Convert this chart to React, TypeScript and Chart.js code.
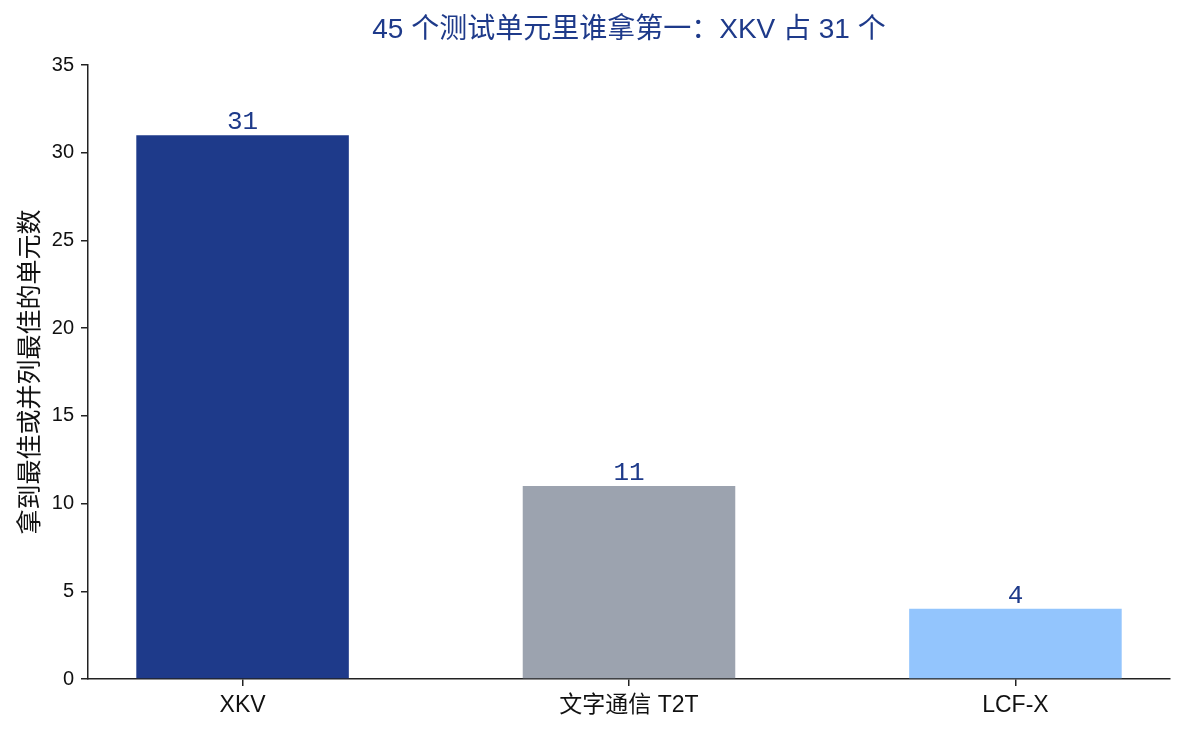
import { useEffect, useRef } from "react";
import { Chart, registerables, type ChartConfiguration, type Plugin } from "chart.js";

Chart.register(...registerables);

const TITLE = "45 个测试单元里谁拿第一：XKV 占 31 个";
const Y_TITLE = "拿到最佳或并列最佳的单元数";
const CATEGORIES = ["XKV", "文字通信 T2T", "LCF-X"];
const WINS = [31, 11, 4];
const BAR_COLORS = ["#1e3a8a", "#9ca3af", "#93c5fd"];

const SANS = "'Liberation Sans', 'Noto Sans CJK SC', sans-serif";
const MONO = "'Liberation Mono', 'Noto Sans CJK SC', monospace";
const AXIS = "#222222";
const ACCENT = "#1e3a8a";

// title centred over the plot area, not the canvas
const titlePlugin: Plugin<"bar"> = {
  id: "plotTitle",
  afterDraw(chart) {
    const { ctx, chartArea } = chart;
    ctx.save();
    ctx.font = `28px ${SANS}`;
    ctx.fillStyle = ACCENT;
    ctx.textAlign = "center";
    ctx.textBaseline = "middle";
    ctx.fillText(TITLE, (chartArea.left + chartArea.right) / 2, 30);
    ctx.restore();
  },
};

// value above each bar
const valueLabels: Plugin<"bar"> = {
  id: "valueLabels",
  afterDatasetsDraw(chart) {
    const { ctx } = chart;
    const meta = chart.getDatasetMeta(0);
    ctx.save();
    ctx.font = `26px ${MONO}`;
    ctx.fillStyle = ACCENT;
    ctx.textAlign = "center";
    ctx.textBaseline = "alphabetic";
    meta.data.forEach((bar, i) => {
      ctx.fillText(String(WINS[i]), bar.x, bar.y - 6);
    });
    ctx.restore();
  },
};

export default function App() {
  const canvasRef = useRef<HTMLCanvasElement>(null);

  useEffect(() => {
    if (!canvasRef.current) return;
    const config: ChartConfiguration<"bar"> = {
      type: "bar",
      data: {
        datasets: [
          {
            data: WINS.map((v, i) => ({ x: i, y: v })) as any,
            backgroundColor: BAR_COLORS,
            borderWidth: 0,
            barPercentage: 0.55,
            categoryPercentage: 1,
          },
        ],
      },
      options: {
        responsive: false,
        animation: false,
        devicePixelRatio: 1,
        layout: { padding: { top: 65, right: 15, left: 0, bottom: 0 } },
        plugins: {
          legend: { display: false },
          tooltip: { enabled: false },
          title: { display: false },
        },
        scales: {
          x: {
            type: "linear",
            min: -0.4,
            max: 2.4,
            offset: false,
            afterBuildTicks: (scale) => {
              scale.ticks = CATEGORIES.map((_, i) => ({ value: i }));
            },
            afterFit: (scale) => {
              scale.height = 56;
            },
            ticks: {
              callback: (v) => CATEGORIES[Number(v)] ?? "",
              color: "#111111",
              font: { size: 23, family: SANS },
              padding: 6,
              maxRotation: 0,
              autoSkip: false,
            },
            grid: { offset: false, drawOnChartArea: false, drawTicks: true, tickLength: 7, color: AXIS, lineWidth: 1.5 },
            border: { display: true, color: AXIS, width: 1.5 },
          },
          y: {
            min: 0,
            max: 35,
            afterFit: (scale) => {
              scale.width = 88;
            },
            ticks: {
              stepSize: 5,
              color: "#111111",
              font: { size: 20, family: SANS },
              padding: 7,
            },
            title: {
              display: true,
              text: Y_TITLE,
              color: "#111111",
              font: { size: 25, family: SANS },
              padding: { top: 16, bottom: 0 },
            },
            grid: { drawOnChartArea: false, drawTicks: true, tickLength: 7, color: AXIS, lineWidth: 1.5 },
            border: { display: true, color: AXIS, width: 1.5 },
          },
        },
      },
      plugins: [titlePlugin, valueLabels],
    };
    const chart = new Chart(canvasRef.current, config);
    return () => chart.destroy();
  }, []);

  return (
    <div style={{ position: "absolute", left: 0, top: 0, width: 1185, height: 735, background: "#ffffff" }}>
      <canvas ref={canvasRef} width={1185} height={735} />
    </div>
  );
}
